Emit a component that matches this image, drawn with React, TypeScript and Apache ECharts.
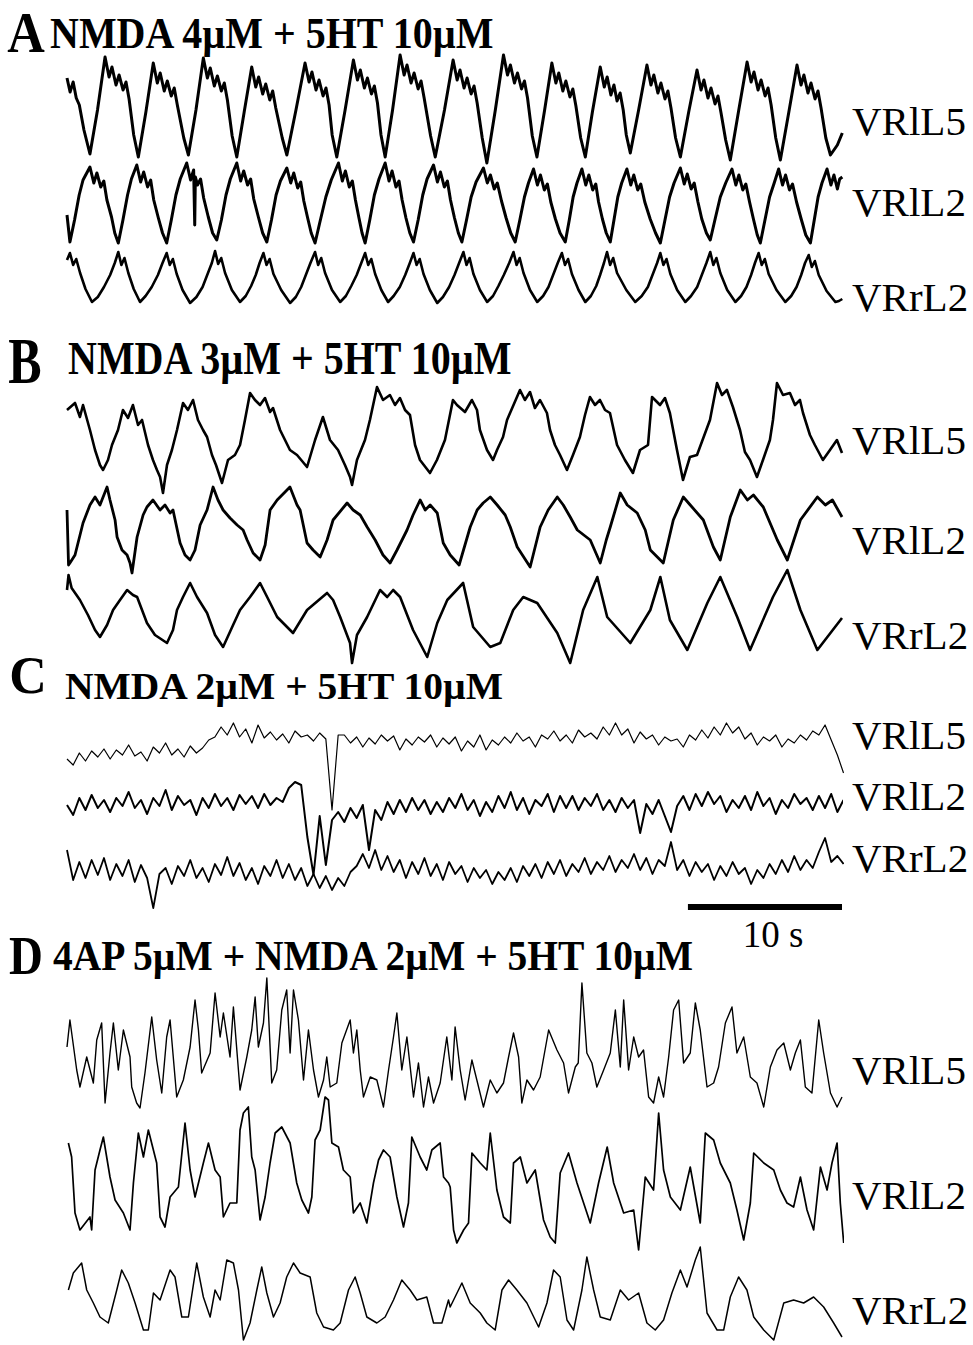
import React, { useEffect, useRef } from "react";
import * as echarts from "echarts";

// ---------------------------------------------------------------------------
// Ventral-root recordings: time (s) vs. amplitude (arbitrary units, 1 unit
// per screen pixel). Each trace is measured from its own baseline.
// ---------------------------------------------------------------------------

const PANEL_LETTERS = ["A", "B", "C", "D"];
const PANEL_TITLES = [
  "NMDA 4\u00b5M + 5HT 10\u00b5M",
  "NMDA 3\u00b5M + 5HT 10\u00b5M",
  "NMDA 2\u00b5M + 5HT 10\u00b5M",
  "4AP 5\u00b5M + NMDA 2\u00b5M + 5HT 10\u00b5M",
];
const TRACE_NAMES = ["VRlL5", "VRlL2", "VRrL2"];

const RECORD_SECONDS = 50.3;
const SCALE_BAR_SECONDS = 10;
const SCALE_BAR_LABEL = "10 s";

// ---- Panel A: NMDA 4 µM + 5HT 10 µM ([time s, amplitude]) ----
const A_VRlL5: [number, number][] = [
  [0, 82], [0.2, 68], [0.4, 78], [0.6, 62], [0.8, 55], [1.1, 30], [1.49, 6],
  [1.98, 50], [2.47, 103], [2.73, 83], [2.92, 93], [3.18, 75], [3.38, 85], [3.64, 70], [3.83, 78], [4.03, 61], [4.33, 25], [4.63, 3],
  [5.12, 48], [5.6, 97], [5.86, 77], [6.05, 87], [6.31, 69], [6.51, 79], [6.77, 64], [6.96, 72], [7.16, 55], [7.58, 22], [7.88, 5],
  [8.37, 50], [8.85, 102], [9.11, 82], [9.3, 92], [9.56, 74], [9.76, 84], [10.02, 69], [10.21, 77], [10.41, 60], [10.72, 24], [11.02, 3],
  [11.5, 48], [11.99, 93], [12.25, 73], [12.44, 83], [12.7, 66], [12.9, 76], [13.16, 60], [13.35, 69], [13.55, 52], [13.97, 22], [14.27, 5],
  [14.86, 50], [15.45, 97], [15.71, 78], [15.9, 88], [16.16, 70], [16.36, 80], [16.62, 64], [16.81, 72], [17.01, 55], [17.21, 25], [17.51, 3],
  [18.05, 50], [18.59, 100], [18.85, 80], [19.04, 90], [19.3, 72], [19.5, 82], [19.76, 66], [19.95, 74], [20.15, 57], [20.38, 25], [20.65, 3],
  [21.13, 50], [21.62, 105], [21.88, 85], [22.07, 95], [22.33, 77], [22.53, 87], [22.79, 71], [22.98, 79], [23.18, 62], [23.6, 24], [23.9, 3],
  [24.5, 50], [25.06, 100], [25.32, 80], [25.51, 90], [25.77, 72], [25.97, 82], [26.23, 66], [26.42, 74], [26.62, 57], [26.95, 22], [27.25, -3],
  [27.8, 50], [28.33, 105], [28.59, 85], [28.78, 95], [29.04, 77], [29.24, 87], [29.5, 71], [29.69, 79], [29.89, 62], [30.2, 24], [30.5, 3],
  [31.0, 50], [31.47, 97], [31.73, 77], [31.92, 87], [32.18, 69], [32.38, 79], [32.64, 63], [32.83, 71], [33.03, 54], [33.34, 22], [33.64, 3],
  [34.1, 48], [34.61, 93], [34.87, 73], [35.06, 83], [35.3, 65], [35.5, 75], [35.7, 59], [35.9, 67], [36.1, 50], [36.3, 25], [36.56, 7],
  [37.1, 50], [37.64, 95], [37.9, 75], [38.09, 85], [38.35, 67], [38.55, 77], [38.81, 61], [39.0, 69], [39.2, 52], [39.5, 22], [39.81, 3],
  [40.35, 48], [40.89, 90], [41.15, 70], [41.34, 80], [41.6, 62], [41.8, 72], [42.06, 56], [42.25, 64], [42.45, 47], [42.75, 20], [43.05, 0],
  [43.6, 50], [44.14, 98], [44.4, 78], [44.59, 88], [44.85, 70], [45.05, 80], [45.31, 64], [45.5, 72], [45.7, 55], [46.0, 22], [46.3, 0],
  [46.85, 48], [47.38, 95], [47.64, 75], [47.83, 85], [48.09, 67], [48.29, 77], [48.55, 61], [48.74, 69], [48.94, 52], [49.25, 22], [49.55, 5],
  [50.0, 15], [50.32, 27],
];

const A_VRlL2: [number, number][] = [
  [0, 30], [0.19, 3],
  [0.49, 25], [0.79, 50], [1.04, 65], [1.49, 78], [1.74, 62], [1.94, 72], [2.19, 58], [2.39, 64], [2.59, 45], [2.89, 28], [3.1, 12], [3.33, 2],
  [3.63, 25], [3.93, 50], [4.18, 66], [4.53, 80], [4.78, 63], [4.98, 73], [5.23, 58], [5.43, 65], [5.63, 45], [5.93, 27], [6.2, 12], [6.47, 2],
  [6.77, 25], [7.07, 50], [7.35, 66], [7.77, 82], [8.02, 65], [8.22, 75], [8.29, 20], [8.33, 68], [8.47, 60], [8.67, 66], [8.87, 47], [9.17, 28], [9.45, 12], [9.72, 5],
  [10.02, 25], [10.32, 50], [10.6, 66], [11.02, 82], [11.27, 64], [11.47, 74], [11.72, 60], [11.92, 66], [12.12, 46], [12.42, 28], [12.7, 12], [12.97, 3],
  [13.27, 25], [13.57, 50], [13.85, 64], [14.27, 77], [14.52, 62], [14.72, 72], [14.97, 57], [15.17, 63], [15.37, 44], [15.62, 27], [15.85, 12], [16.1, 2],
  [16.4, 22], [16.8, 48], [17.15, 65], [17.62, 82], [17.87, 64], [18.07, 74], [18.32, 58], [18.52, 64], [18.72, 45], [18.95, 27], [19.15, 12], [19.35, 2],
  [19.65, 25], [19.95, 50], [20.25, 66], [20.65, 82], [20.9, 64], [21.1, 74], [21.35, 58], [21.55, 64], [21.75, 45], [22.0, 27], [22.25, 12], [22.49, 3],
  [22.79, 25], [23.09, 50], [23.37, 66], [23.79, 80], [24.04, 63], [24.24, 73], [24.49, 58], [24.69, 64], [24.89, 45], [25.15, 27], [25.4, 12], [25.63, 3],
  [25.93, 25], [26.23, 48], [26.55, 63], [27.03, 77], [27.28, 62], [27.48, 70], [27.73, 56], [27.93, 62], [28.2, 44], [28.5, 27], [28.8, 12], [29.09, 3],
  [29.39, 25], [29.69, 48], [29.95, 62], [30.28, 76], [30.53, 60], [30.73, 70], [30.98, 55], [31.18, 61], [31.4, 43], [31.7, 26], [32.0, 12], [32.34, 3],
  [32.6, 25], [32.85, 48], [33.1, 62], [33.42, 76], [33.67, 60], [33.87, 70], [34.12, 55], [34.32, 61], [34.5, 43], [34.75, 26], [35.0, 12], [35.26, 3],
  [35.5, 25], [35.75, 48], [36.0, 62], [36.34, 76], [36.59, 60], [36.79, 70], [37.04, 55], [37.24, 61], [37.5, 43], [37.85, 26], [38.2, 12], [38.51, 2],
  [38.81, 25], [39.11, 48], [39.4, 62], [39.81, 77], [40.06, 61], [40.26, 71], [40.51, 56], [40.71, 62], [40.95, 43], [41.2, 26], [41.5, 12], [41.75, 5],
  [42.05, 25], [42.4, 48], [42.75, 62], [43.16, 76], [43.41, 60], [43.61, 70], [43.86, 55], [44.06, 61], [44.3, 43], [44.55, 26], [44.8, 10], [45.0, 2],
  [45.3, 25], [45.6, 48], [45.9, 62], [46.19, 76], [46.44, 60], [46.64, 70], [46.89, 55], [47.09, 61], [47.35, 43], [47.65, 26], [47.95, 10], [48.25, 2],
  [48.5, 25], [48.75, 48], [49.0, 62], [49.33, 76], [49.58, 60], [49.78, 70], [50.0, 56], [50.15, 66], [50.32, 68],
];

const A_VRrL2: [number, number][] = [
  [0, 45], [0.19, 52], [0.4, 40], [0.6, 46], [0.85, 32], [1.2, 16], [1.62, 3], [2.0, 8], [2.4, 18], [2.8, 30], [3.1, 42],
  [3.33, 53], [3.53, 40], [3.73, 47], [3.98, 32], [4.33, 16], [4.74, 3], [5.1, 9], [5.5, 18], [5.9, 30], [6.2, 42],
  [6.47, 52], [6.67, 40], [6.87, 46], [7.12, 31], [7.5, 15], [7.99, 2], [8.4, 8], [8.8, 18], [9.1, 30], [9.4, 42],
  [9.61, 54], [9.81, 41], [10.01, 47], [10.26, 32], [10.7, 15], [11.23, 3], [11.6, 9], [11.95, 19], [12.25, 30], [12.5, 42],
  [12.75, 52], [12.95, 40], [13.15, 46], [13.4, 31], [13.9, 15], [14.48, 2], [14.85, 8], [15.2, 18], [15.5, 30], [15.8, 42],
  [16.1, 53], [16.3, 40], [16.5, 47], [16.75, 32], [17.2, 15], [17.73, 3], [18.1, 9], [18.45, 19], [18.8, 30], [19.1, 42],
  [19.35, 52], [19.55, 40], [19.75, 46], [20.0, 31], [20.4, 15], [20.84, 3], [21.2, 9], [21.6, 18], [21.95, 30], [22.25, 42],
  [22.49, 52], [22.69, 40], [22.89, 46], [23.14, 31], [23.55, 15], [24.03, 2], [24.4, 8], [24.8, 18], [25.15, 30], [25.45, 42],
  [25.73, 53], [25.93, 40], [26.13, 47], [26.38, 31], [26.8, 15], [27.27, 3], [27.65, 9], [28.0, 19], [28.35, 30], [28.7, 42],
  [28.98, 53], [29.18, 40], [29.38, 47], [29.63, 32], [30.05, 15], [30.52, 3], [30.9, 9], [31.25, 18], [31.55, 30], [31.85, 42],
  [32.12, 52], [32.32, 40], [32.52, 46], [32.77, 31], [33.2, 15], [33.64, 3], [34.0, 9], [34.35, 19], [34.6, 30], [34.85, 42],
  [35.05, 53], [35.25, 40], [35.45, 47], [35.7, 32], [36.3, 15], [36.88, 3], [37.3, 9], [37.7, 18], [38.0, 30], [38.3, 42],
  [38.51, 52], [38.71, 40], [38.91, 46], [39.16, 31], [39.6, 15], [40.13, 3], [40.5, 9], [40.9, 18], [41.2, 30], [41.5, 42],
  [41.75, 53], [41.95, 40], [42.15, 47], [42.4, 32], [42.85, 15], [43.38, 3], [43.75, 9], [44.1, 18], [44.4, 30], [44.65, 42],
  [44.89, 52], [45.09, 40], [45.29, 46], [45.54, 31], [46.05, 15], [46.62, 3], [47.0, 9], [47.35, 18], [47.65, 30], [47.9, 42],
  [48.14, 50], [48.34, 38], [48.54, 44], [48.79, 30], [49.3, 14], [49.87, 3], [50.1, 4], [50.32, 6],
];

// ---- Panel B: NMDA 3 µM + 5HT 10 µM ----
const B_VRlL5: [number, number][] = [
  [0, 75], [0.52, 82], [0.84, 68], [1.04, 80], [1.49, 55], [1.82, 35], [2.14, 20], [2.34, 15], [2.66, 25], [2.92, 40], [3.31, 55],
  [3.63, 75], [3.96, 67], [4.28, 80], [4.61, 60], [4.87, 65], [5.26, 40], [5.58, 25], [5.84, 15], [6.04, 8], [6.23, -8], [6.49, 20],
  [6.81, 35], [7.14, 55], [7.53, 82], [7.85, 75], [8.18, 85], [8.5, 65], [8.83, 55], [9.09, 48], [9.41, 30], [9.67, 20], [9.93, 8],
  [10.06, 2], [10.45, 25], [10.9, 30], [11.23, 40], [11.55, 65], [11.88, 92], [12.2, 85], [12.53, 80], [12.85, 87], [13.18, 73],
  [13.37, 77], [13.83, 55], [14.15, 45], [14.47, 35], [14.93, 30], [15.58, 18], [16.1, 45], [16.61, 68], [17.07, 45], [17.59, 35],
  [18.04, 20], [18.37, 8], [18.5, 0], [18.82, 25], [19.34, 45], [19.66, 65], [20.12, 98], [20.51, 85], [20.96, 90], [21.29, 80],
  [21.61, 87], [21.94, 75], [22.26, 70], [22.59, 40], [22.91, 25], [23.56, 12], [24.01, 25], [24.53, 45], [25.05, 85], [25.31, 80],
  [25.83, 73], [26.28, 85], [26.61, 75], [26.8, 55], [27.26, 35], [27.65, 25], [27.91, 35], [28.3, 48], [28.56, 65], [29.4, 95],
  [29.72, 85], [30.05, 93], [30.37, 77], [30.7, 85], [31.15, 72], [31.35, 55], [31.67, 40], [32.0, 30], [32.45, 15], [32.84, 30],
  [33.29, 48], [33.62, 70], [33.94, 88], [34.27, 80], [34.59, 85], [34.92, 75], [35.24, 72], [35.7, 40], [36.21, 25], [36.73, 12],
  [37.19, 35], [37.71, 40], [37.97, 88], [38.49, 80], [38.81, 87], [39.13, 72], [39.59, 35], [39.98, 5], [40.43, 28], [40.89, 30],
  [41.73, 65], [42.19, 102], [42.51, 90], [42.83, 95], [43.22, 78], [43.68, 55], [44.0, 33], [44.33, 25], [44.78, 8], [45.17, 25],
  [45.62, 45], [45.82, 65], [46.08, 102], [46.47, 90], [46.92, 92], [47.25, 80], [47.57, 85], [47.77, 72], [48.22, 50], [48.54, 40],
  [49.06, 25], [49.52, 35], [49.97, 45], [50.3, 32],
];

const B_VRlL2: [number, number][] = [
  [0, 60], [0.1, 5], [0.19, 7], [0.52, 15], [1.04, 47], [1.49, 65], [1.82, 73], [2.14, 65], [2.6, 83], [2.79, 70], [3.12, 50],
  [3.25, 33], [3.57, 20], [3.9, 15], [4.09, 7], [4.22, -3], [4.55, 33], [4.94, 55], [5.19, 63], [5.58, 70], [6.04, 60], [6.36, 65],
  [6.69, 57], [6.88, 60], [7.34, 27], [7.66, 15], [7.99, 10], [8.31, 20], [8.64, 45], [9.09, 60], [9.48, 83], [9.8, 70], [10.13, 60],
  [10.58, 52], [11.04, 45], [11.43, 40], [11.69, 30], [12.08, 17], [12.53, 10], [12.86, 25], [13.18, 60], [13.64, 70], [14.47, 83],
  [14.93, 65], [15.13, 60], [15.58, 27], [15.97, 20], [16.43, 13], [16.88, 30], [17.27, 50], [18.18, 67], [18.57, 60], [19.03, 55],
  [19.48, 43], [20.0, 30], [20.51, 15], [20.97, 7], [21.42, 20], [22.07, 40], [22.46, 55], [22.92, 70], [23.25, 60], [23.57, 65],
  [24.03, 57], [24.42, 27], [24.87, 15], [25.45, 5], [26.17, 43], [26.62, 60], [27.01, 67], [27.47, 73], [27.92, 65], [28.44, 55],
  [28.77, 43], [29.22, 23], [30.06, 3], [30.71, 43], [31.23, 60], [31.82, 73], [32.21, 65], [32.66, 53], [33.12, 40], [33.96, 30],
  [34.61, 7], [35.0, 30], [35.26, 43], [35.91, 77], [36.36, 65], [37.01, 57], [37.53, 40], [37.86, 20], [38.7, 7], [39.35, 50],
  [40.0, 73], [40.45, 65], [41.3, 50], [41.95, 23], [42.4, 10], [43.05, 53], [43.7, 80], [44.16, 70], [44.55, 75], [45.19, 63],
  [46.1, 30], [46.75, 10], [47.6, 50], [48.7, 73], [49.22, 65], [49.68, 70], [50.3, 53],
];

const B_VRrL2: [number, number][] = [
  [0, 70], [0.1, 85], [0.3, 72], [0.84, 60], [1.36, 45], [1.82, 30], [2.14, 23], [2.6, 35], [2.99, 50], [3.44, 60], [3.9, 70],
  [4.28, 65], [4.55, 63], [5.19, 37], [5.71, 25], [6.49, 17], [6.88, 30], [7.14, 50], [7.53, 63], [7.99, 77], [8.44, 63], [9.09, 47],
  [9.61, 25], [10.13, 13], [10.78, 35], [11.23, 50], [11.88, 63], [12.53, 77], [12.99, 63], [13.64, 43], [14.67, 27], [15.58, 50],
  [16.88, 67], [17.27, 60], [17.73, 43], [18.37, 17], [18.5, -3], [18.82, 25], [19.48, 43], [20.32, 70], [20.78, 63], [21.17, 70],
  [21.62, 63], [22.46, 30], [23.38, 3], [24.03, 37], [24.68, 60], [25.71, 77], [26.36, 33], [27.47, 13], [28.12, 17], [28.96, 50],
  [29.61, 63], [30.52, 57], [31.82, 27], [32.66, -3], [33.5, 50], [34.42, 83], [35.06, 43], [36.56, 17], [37.86, 50], [38.51, 83],
  [39.13, 40], [40.26, 10], [41.56, 57], [42.4, 83], [43.5, 43], [44.33, 10], [45.82, 63], [46.75, 90], [47.6, 50], [48.7, 10],
  [50.2, 40], [50.3, 42],
];

// ---- Panel C: NMDA 2 µM + 5HT 10 µM, sampled every C_DT seconds ----
const C_DT = 0.4;
const C_VRlL5 = [
  6, 0, 12, 4, 14, 8, 16, 6, 15, 10, 20, 9, 13, 4, 18, 12, 22, 10, 16, 8,
  19, 12, 17, 25, 28, 38, 30, 42, 28, 36, 22, 40, 27, 33, 25, 31, 22, 34, 28, 30,
  24, 32, 26, -45, 30, 30, 22, 28, 18, 27, 21, 30, 24, 29, 15, 26, 20, 28, 23, 30,
  18, 27, 21, 28, 14, 24, 18, 30, 15, 25, 20, 28, 22, 32, 24, 28, 18, 30, 26, 34,
  24, 30, 22, 35, 28, 32, 26, 38, 30, 42, 30, 36, 22, 33, 26, 30, 20, 28, 24, 26,
  18, 30, 25, 35, 27, 38, 30, 42, 32, 38, 26, 32, 20, 28, 24, 30, 18, 26, 22, 30,
  25, 34, 30, 40, 25, 10, -8,
];
const C_VRlL2 = [
  15, 5, 22, 10, 25, 12, 20, 8, 22, 14, 28, 12, 20, 6, 22, 14, 30, 10, 24, 15,
  20, 5, 22, 12, 26, 14, 22, 10, 25, 16, 24, 12, 26, 15, 22, 18, 32, 38, 35, -17,
  -55, 4, -45, 0, 8, -2, 12, 2, 15, -30, 10, 0, 18, 6, 20, 8, 22, 10, 20, 6,
  18, 8, 22, 12, 26, 10, 20, 4, 18, 8, 24, 12, 28, 10, 22, 6, 20, 14, 26, 8,
  24, 12, 24, 10, 22, 14, 26, 10, 20, 8, 22, 12, 20, -13, 16, 6, 20, 4, -12, 14,
  24, 10, 26, 14, 28, 16, 24, 8, 20, 12, 24, 10, 28, 14, 22, 6, 20, 12, 26, 16,
  22, 10, 24, 12, 26, 8, 20,
];
const C_VRrL2 = [
  40, 10, 28, 12, 30, 15, 32, 10, 26, 14, 30, 8, 25, 12, -18, 16, 22, 6, 24, 14,
  30, 12, 22, 8, 26, 15, 33, 14, 27, 10, 22, 6, 24, 14, 30, 12, 26, 10, 22, 4,
  16, 2, 14, 0, 12, 4, 18, 24, 36, 22, 40, 20, 34, 18, 30, 12, 28, 16, 32, 14,
  26, 10, 28, 16, 24, 8, 22, 12, 20, 6, 18, 10, 22, 8, 24, 14, 26, 12, 28, 16,
  30, 14, 26, 18, 32, 16, 28, 20, 34, 18, 30, 22, 36, 20, 32, 16, 30, 24, 48, 20,
  30, 14, 28, 18, 26, 10, 24, 14, 28, 16, 22, 6, 20, 12, 26, 16, 30, 18, 34, 20,
  30, 22, 38, 52, 28, 34, 26,
];

// ---- Panel D: 4AP 5 µM + NMDA 2 µM + 5HT 10 µM ----
const D_VRlL5: [number, number][] = [
  [0, 63], [0.19, 90], [0.63, 40], [0.84, 23], [1.28, 53], [1.71, 27], [1.93, 70], [2.25, 87], [2.47, 7], [2.79, 57], [3.01, 87],
  [3.33, 40], [3.66, 80], [4.09, 53], [4.2, 23], [4.52, 7], [4.74, 2], [5.06, 37], [5.5, 93], [5.82, 50], [6.15, 17], [6.47, 73],
  [6.69, 90], [7.12, 13], [7.55, 30], [7.99, 63], [8.31, 110], [8.53, 80], [8.74, 37], [9.29, 57], [9.61, 117], [9.94, 73],
  [10.15, 97], [10.58, 53], [10.8, 103], [11.23, 20], [11.67, 53], [11.99, 80], [12.21, 113], [12.42, 63], [12.75, 87], [12.97, 132],
  [13.29, 27], [13.61, 40], [13.94, 100], [14.26, 120], [14.48, 57], [14.7, 120], [15.02, 90], [15.35, 30], [15.67, 80], [16.0, 40],
  [16.32, 13], [16.65, 30], [16.86, 53], [17.08, 23], [17.51, 27], [17.84, 67], [18.38, 90], [18.59, 57], [18.81, 80], [19.03, 40],
  [19.24, 13], [19.68, 33], [20.11, 30], [20.54, 3], [20.87, 40], [21.19, 73], [21.41, 97], [21.73, 40], [22.06, 73], [22.49, 13],
  [22.81, 47], [23.14, 3], [23.46, 33], [23.79, 7], [24.22, 27], [24.65, 73], [24.98, 30], [25.19, 83], [25.52, 40], [25.84, 10],
  [26.28, 50], [26.6, 30], [27.03, 3], [27.47, 30], [27.9, 17], [28.33, 27], [28.66, 53], [28.98, 77], [29.31, 53], [29.52, 7],
  [29.85, 30], [30.28, 20], [30.71, 33], [31.26, 80], [31.8, 60], [32.23, 47], [32.55, 17], [32.99, 43], [33.18, 47], [33.42, 127],
  [33.74, 57], [34.07, 47], [34.39, 23], [34.83, 40], [35.26, 57], [35.59, 100], [35.91, 43], [36.13, 110], [36.45, 40], [36.78, 73],
  [37.1, 53], [37.42, 60], [37.75, 13], [38.07, 7], [38.4, 33], [38.72, 13], [39.05, 53], [39.37, 100], [39.7, 110], [40.02, 47],
  [40.45, 57], [40.78, 107], [41.1, 80], [41.54, 23], [41.97, 27], [42.29, 43], [42.73, 87], [43.16, 103], [43.48, 57], [43.92, 73],
  [44.35, 33], [44.78, 27], [45.22, 3], [45.65, 43], [46.08, 60], [46.52, 67], [46.95, 40], [47.27, 57], [47.6, 70], [47.92, 23],
  [48.35, 17], [48.79, 90], [49.11, 57], [49.55, 17], [49.98, 3], [50.3, 13],
];

const D_VRlL2: [number, number][] = [
  [0.09, 107], [0.3, 93], [0.52, 37], [0.84, 20], [1.49, 33], [1.6, 20], [1.82, 80], [2.14, 100], [2.36, 113], [2.79, 73], [3.12, 50],
  [3.66, 37], [4.09, 20], [4.31, 67], [4.63, 117], [4.96, 93], [5.28, 120], [5.82, 87], [6.04, 33], [6.36, 23], [6.69, 53], [7.23, 63],
  [7.66, 127], [7.99, 80], [8.31, 53], [8.85, 87], [9.18, 107], [9.61, 80], [9.94, 73], [10.15, 33], [10.58, 47], [11.02, 47],
  [11.23, 120], [11.45, 137], [11.77, 143], [11.99, 93], [12.21, 80], [12.53, 30], [12.86, 53], [13.18, 87], [13.51, 117], [13.94, 123],
  [14.48, 107], [14.91, 67], [15.24, 50], [15.67, 37], [15.89, 53], [16.1, 110], [16.43, 120], [16.75, 153], [16.97, 150], [17.19, 107],
  [17.62, 103], [17.94, 80], [18.38, 73], [18.59, 37], [19.03, 47], [19.46, 27], [19.89, 67], [20.22, 90], [20.54, 100], [20.97, 93],
  [21.41, 53], [21.84, 23], [22.16, 47], [22.38, 113], [22.92, 93], [23.35, 80], [23.68, 100], [24.22, 107], [24.44, 73], [24.76, 67],
  [24.87, 63], [25.09, 20], [25.3, 7], [25.74, 20], [26.06, 27], [26.28, 97], [26.82, 87], [27.25, 80], [27.47, 117], [27.9, 60],
  [28.33, 33], [28.77, 27], [28.98, 87], [29.42, 93], [29.85, 67], [30.39, 80], [30.93, 30], [31.36, 13], [31.69, 7], [32.01, 77],
  [32.55, 97], [33.1, 67], [33.53, 47], [33.96, 27], [34.5, 67], [35.06, 103], [35.48, 67], [36.13, 37], [36.78, 40], [37.1, 0],
  [37.53, 73], [38.07, 60], [38.4, 137], [38.72, 80], [39.16, 53], [39.81, 40], [40.45, 83], [41.1, 27], [41.43, 117], [41.97, 110],
  [42.4, 87], [43.05, 67], [43.48, 40], [43.92, 10], [44.35, 47], [44.57, 97], [45.22, 87], [45.87, 80], [46.3, 60], [46.73, 47],
  [47.16, 43], [47.6, 73], [48.03, 40], [48.46, 20], [48.9, 83], [49.33, 60], [49.65, 87], [49.98, 107], [50.19, 47], [50.41, 7],
];

const D_VRrL2: [number, number][] = [
  [0.09, 55], [0.41, 72], [0.95, 82], [1.28, 55], [1.71, 42], [2.14, 28], [2.68, 22], [3.23, 55], [3.55, 75], [3.98, 62], [4.42, 42],
  [4.96, 15], [5.28, 15], [5.61, 52], [6.04, 45], [6.69, 75], [7.01, 68], [7.45, 28], [7.88, 28], [8.42, 82], [8.85, 48], [9.29, 28],
  [9.61, 55], [9.94, 45], [10.37, 85], [10.8, 82], [11.13, 55], [11.45, 5], [11.88, 22], [12.32, 55], [12.64, 78], [12.97, 52],
  [13.4, 28], [13.83, 42], [14.26, 68], [14.7, 82], [15.13, 72], [15.78, 68], [16.21, 32], [16.65, 18], [17.29, 15], [17.73, 22],
  [18.27, 55], [18.7, 68], [19.03, 52], [19.46, 28], [20.11, 22], [20.65, 28], [21.19, 45], [21.73, 65], [22.27, 55], [22.71, 45],
  [23.35, 48], [23.79, 22], [24.33, 22], [24.76, 45], [24.87, 38], [25.63, 62], [26.17, 42], [26.82, 32], [27.25, 22], [27.79, 15],
  [28.23, 55], [28.66, 65], [29.2, 55], [29.85, 42], [30.61, 18], [31.15, 42], [31.58, 75], [32.01, 68], [32.45, 25], [32.88, 15],
  [33.42, 55], [33.74, 88], [34.18, 55], [34.61, 28], [35.26, 25], [35.91, 55], [36.45, 45], [37.1, 52], [37.64, 22], [38.18, 15],
  [38.72, 25], [39.26, 52], [39.81, 75], [40.24, 58], [40.78, 85], [41.1, 98], [41.54, 32], [42.19, 15], [42.62, 15], [43.05, 48],
  [43.59, 68], [44.13, 55], [44.57, 28], [45.22, 15], [45.87, 5], [46.52, 42], [47.16, 45], [47.81, 42], [48.46, 48], [49.11, 38],
  [49.76, 22], [50.3, 8],
];

// ---------------------------------------------------------------------------
// Layout (page pixels). Each panel is one grid; a trace sits on its baseline.
// ---------------------------------------------------------------------------
const PAGE_W = 973;
const PAGE_H = 1345;
const PLOT_LEFT = 67;
const PLOT_WIDTH = 775;
const LABEL_LEFT = 852;
const FONT = "'Liberation Serif', 'Times New Roman', serif";

type Pt = [number, number];
const uniform = (vals: number[], dt: number): Pt[] => vals.map((v, i) => [i * dt, v]);

interface PanelLayout {
  top: number;
  bottom: number;
  traces: Pt[][];
  baselines: number[];
  labelY: number[];
  lineWidths: number[];
  letter: { x: number; y: number; size: number; scaleY: number };
  title: { x: number; y: number; size: number; scaleY: number };
}

const PANELS: PanelLayout[] = [
  {
    top: 40, bottom: 310,
    traces: [A_VRlL5, A_VRlL2, A_VRrL2],
    baselines: [160, 245, 305],
    labelY: [121, 202, 297],
    lineWidths: [3, 3, 2.6],
    letter: { x: 26, y: 33, size: 52, scaleY: 1.1 },
    title: { x: 50, y: 33, size: 40, scaleY: 1.12 },
  },
  {
    top: 375, bottom: 670,
    traces: [B_VRlL5, B_VRlL2, B_VRrL2],
    baselines: [485, 570, 660],
    labelY: [440, 540, 635],
    lineWidths: [2.6, 2.8, 2.6],
    letter: { x: 25, y: 361, size: 50, scaleY: 1.3 },
    title: { x: 68, y: 359, size: 40, scaleY: 1.15 },
  },
  {
    top: 700, bottom: 915,
    traces: [uniform(C_VRlL5, C_DT), uniform(C_VRlL2, C_DT), uniform(C_VRrL2, C_DT)],
    baselines: [765, 820, 890],
    labelY: [735, 796, 858],
    lineWidths: [1.2, 2.0, 1.8],
    letter: { x: 28, y: 675, size: 52, scaleY: 1.0 },
    title: { x: 65, y: 686, size: 39.5, scaleY: 0.95 },
  },
  {
    top: 975, bottom: 1345,
    traces: [D_VRlL5, D_VRlL2, D_VRrL2],
    baselines: [1110, 1250, 1345],
    labelY: [1070, 1195, 1310],
    lineWidths: [1.4, 1.7, 1.5],
    letter: { x: 26, y: 956, size: 47, scaleY: 1.15 },
    title: { x: 53, y: 956, size: 39.5, scaleY: 1.05 },
  },
];

// Scale bar lives in panel C, drawn through that panel's axes
const SCALE_PANEL = 2;
const SCALE_BAR_Y = 907;
const SCALE_LABEL_POS = { x: 773, y: 934 };

function textEl(
  text: string,
  x: number,
  y: number,
  font: string,
  align: "left" | "center",
  scaleY = 1
) {
  return {
    type: "text",
    x,
    y,
    scaleY,
    silent: true,
    style: {
      text,
      font,
      fill: "#000",
      textAlign: align,
      textVerticalAlign: "middle",
      align,
      verticalAlign: "middle",
    },
  };
}

function buildOption(): echarts.EChartsCoreOption {
  const grid: any[] = [];
  const xAxis: any[] = [];
  const yAxis: any[] = [];
  const series: any[] = [];
  const graphic: any[] = [];

  PANELS.forEach((p, i) => {
    const h = p.bottom - p.top;
    grid.push({ left: PLOT_LEFT, width: PLOT_WIDTH, top: p.top, height: h, containLabel: false });
    xAxis.push({ type: "value", gridIndex: i, min: 0, max: RECORD_SECONDS, show: false });
    yAxis.push({ type: "value", gridIndex: i, min: 0, max: h, show: false });

    p.traces.forEach((trace, j) => {
      const lift = p.bottom - p.baselines[j];
      series.push({
        type: "line",
        name: `${PANEL_LETTERS[i]} ${TRACE_NAMES[j]}`,
        xAxisIndex: i,
        yAxisIndex: i,
        data: trace.map(([t, v]) => [t, v + lift]),
        showSymbol: false,
        symbol: "none",
        clip: true,
        silent: true,
        lineStyle: { color: "#000", width: p.lineWidths[j], join: "round" },
      });
      graphic.push(textEl(TRACE_NAMES[j], LABEL_LEFT, p.labelY[j], `41px ${FONT}`, "left"));
    });

    graphic.push(
      textEl(PANEL_LETTERS[i], p.letter.x, p.letter.y, `bold ${p.letter.size}px ${FONT}`, "center", p.letter.scaleY)
    );
    graphic.push(
      textEl(PANEL_TITLES[i], p.title.x, p.title.y, `bold ${p.title.size}px ${FONT}`, "left", p.title.scaleY)
    );
  });

  const sp = PANELS[SCALE_PANEL];
  const barLevel = sp.bottom - SCALE_BAR_Y;
  series.push({
    type: "line",
    name: "scale bar",
    xAxisIndex: SCALE_PANEL,
    yAxisIndex: SCALE_PANEL,
    data: [
      [RECORD_SECONDS - SCALE_BAR_SECONDS, barLevel],
      [RECORD_SECONDS, barLevel],
    ],
    showSymbol: false,
    symbol: "none",
    silent: true,
    clip: false,
    lineStyle: { color: "#000", width: 6, cap: "butt" },
  });
  graphic.push(textEl(SCALE_BAR_LABEL, SCALE_LABEL_POS.x, SCALE_LABEL_POS.y, `37px ${FONT}`, "center"));

  return {
    animation: false,
    backgroundColor: "#fff",
    tooltip: { show: false },
    grid,
    xAxis,
    yAxis,
    series,
    graphic,
  };
}

export default function App() {
  const ref = useRef<HTMLDivElement>(null);

  useEffect(() => {
    document.body.style.margin = "0";
    if (!ref.current) return;
    const chart = echarts.init(ref.current, undefined, { renderer: "svg" });
    chart.setOption(buildOption());
    return () => chart.dispose();
  }, []);

  return <div ref={ref} style={{ width: PAGE_W, height: PAGE_H, background: "#fff" }} />;
}
